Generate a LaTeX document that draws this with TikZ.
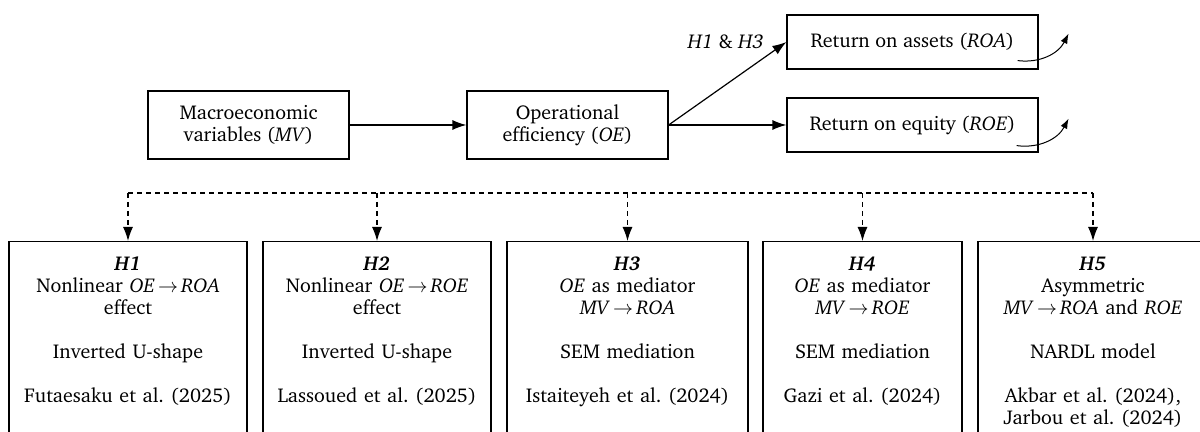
\documentclass[tikz,border=0pt]{standalone}
\usepackage[T1]{fontenc}
\usepackage{charter}
\usetikzlibrary{arrows.meta}
\frenchspacing

\tikzset{
    box/.style={draw, line width=0.6pt, align=center, inner sep=0pt},
    hyp/.style={box, anchor=north, text height=14.25pt, text depth=90pt},
    link/.style={-{Latex[length=7pt,width=5pt]}, line width=0.6pt},
    bus/.style={dash pattern=on 2.5pt off 2pt, line width=0.6pt},
    turn/.style={-{Latex[length=5pt,width=3.6pt]}, line width=0.5pt},
}
\newcommand{\goesto}{\,$\rightarrow$\,}

\begin{document}
\begin{tikzpicture}[x=0.5pt, y=-0.5pt, font=\fontsize{10}{11}\selectfont]
    % Frame of the picture
    \useasboundingbox (0,0) rectangle (1200,432);
    \clip (0,0) rectangle (1200,432);

    % Top row
    \node[box, minimum width=100.5pt, minimum height=34pt] (mv) at (248.5,125) {Macroeconomic\\variables (\textit{MV})};
    \node[box, minimum width=100.5pt, minimum height=34pt] (oe) at (567.5,125) {Operational\\efficiency (\textit{OE})};
    \node[box, minimum width=125.5pt, minimum height=27pt] (roa) at (912.5,42) {Return on assets (\textit{ROA})};
    \node[box, minimum width=125.5pt, minimum height=27pt] (roe) at (912.5,125) {Return on equity (\textit{ROE})};

    % Paths between the top boxes
    \draw[link] (mv.east) -- (oe.west);
    \draw[link] (oe.east) -- (roa.west) node[pos=1, anchor=east, xshift=-7.7pt] {\textit{H1} \& \textit{H3}};
    \draw[link] (oe.east) -- (roe.west);

    % Rising arrows at the outcomes
    \draw[turn] ([shift={(-10.5pt,4.5pt)}]roa.south east) to[bend right=35] ([shift={(15pt,18pt)}]roa.south east);
    \draw[turn] ([shift={(-11pt,3.5pt)}]roe.south east) to[bend right=35] ([shift={(15pt,17pt)}]roe.south east);

    % Hypothesis boxes
    \node[hyp, text width=119pt] (h1) at (128,241) {\textbf{\textit{H1}}\\Nonlinear \textit{OE}\goesto\textit{ROA}\\effect\\[11pt]Inverted U-shape\\[11pt]Futaesaku et al. (2025)};
    \node[hyp, text width=114pt] (h2) at (377,241) {\textbf{\textit{H2}}\\Nonlinear \textit{OE}\goesto\textit{ROE}\\effect\\[11pt]Inverted U-shape\\[11pt]Lassoued et al. (2025)};
    \node[hyp, text width=120.5pt] (h3) at (627.5,241) {\textbf{\textit{H3}}\\\textit{OE} as mediator\\\textit{MV}\goesto\textit{ROA}\\[11pt]SEM mediation\\[11pt]Istaiteyeh et al. (2024)};
    \node[hyp, text width=99.5pt] (h4) at (862.5,241) {\textbf{\textit{H4}}\\\textit{OE} as mediator\\\textit{MV}\goesto\textit{ROE}\\[11pt]SEM mediation\\[11pt]Gazi et al. (2024)};
    \node[hyp, text width=115pt] (h5) at (1093,241) {\textbf{\textit{H5}}\\Asymmetric\\\textit{MV}\goesto\textit{ROA} and \textit{ROE}\\[11pt]NARDL model\\[11pt]Akbar et al. (2024),\\Jarbou et al. (2024)};

    % Dashed bus down to the hypotheses
    \coordinate (busy) at (0,193);
    \draw[bus] (h1.north |- busy) -- (h5.north |- busy);
    \draw[bus, link] (h1.north |- busy) -- (h1.north);
    \draw[bus, link] (h2.north |- busy) -- (h2.north);
    \draw[bus, link] (h3.north |- busy) -- (h3.north);
    \draw[bus, link] (h4.north |- busy) -- (h4.north);
    \draw[bus, link] (h5.north |- busy) -- (h5.north);
\end{tikzpicture}
\end{document}
